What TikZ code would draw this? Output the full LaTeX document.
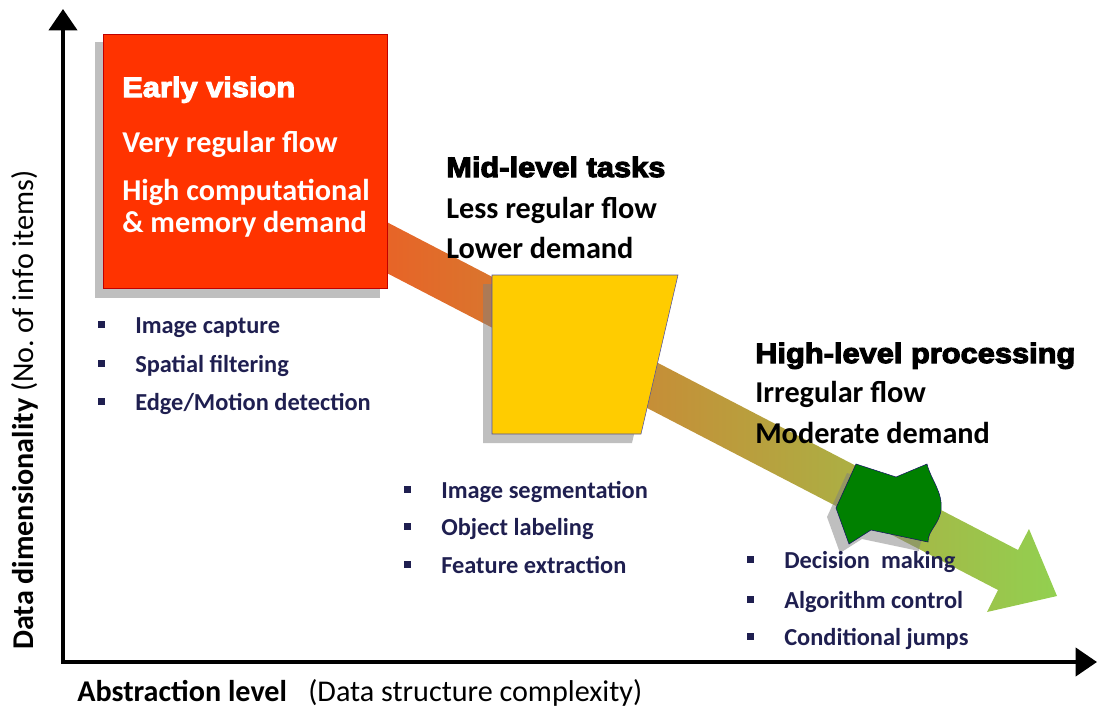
\documentclass[tikz,border=0pt]{standalone}
\usepackage{fontspec}
\setmainfont{Carlito}
\newfontfamily\blackfont[BoldFont={Liberation Sans Bold},BoldFeatures={FakeBold=4,FakeStretch=1.1}]{Liberation Sans}
\usetikzlibrary{positioning,arrows.meta}

\definecolor{earlyred}{RGB}{255,51,0}
\definecolor{earlyline}{RGB}{192,0,0}
\definecolor{midyellow}{RGB}{255,204,0}
\definecolor{midline}{RGB}{80,80,160}
\definecolor{highgreen}{RGB}{0,128,0}
\definecolor{highline}{RGB}{20,20,100}
\definecolor{itemblue}{RGB}{31,31,80}
\definecolor{flowA}{RGB}{242,86,34}
\definecolor{flowB}{RGB}{200,160,70}
\definecolor{flowC}{RGB}{146,208,80}

\newcommand{\sqmark}{\raisebox{3.75pt}{\rule{5.25pt}{5.25pt}}\hspace{22.5pt}}

\begin{document}
\begin{tikzpicture}[x=0.75pt,y=-0.75pt,
  head/.style={anchor=base west, inner sep=0pt, font=\blackfont\bfseries\fontsize{21}{24}\selectfont},
  line/.style={anchor=base west, inner sep=0pt, font=\fontsize{22.7}{26}\selectfont\bfseries},
  item/.style={anchor=base west, inner sep=0pt, text=itemblue, font=\fontsize{18.3}{21}\selectfont\bfseries},
  shade/.style={fill=gray, fill opacity=0.5, draw=none},
  axis/.style={line width=3pt, line join=miter, {Triangle[width=21pt,length=16pt]}-{Triangle[width=21pt,length=16pt]}}]
\useasboundingbox (0,0) rectangle (1097,707);

\coordinate (ytop) at (63,9);
\coordinate (xend) at (1097,662);
\draw[axis] (ytop) |- (xend);

\path[left color=flowA, middle color=flowB, right color=flowC]
  (300,177) -- (1018,550) -- (1029,529) -- (1057,596) -- (987,612) -- (998,590) -- (300,228) -- cycle;

\fill[shade] (95,42) rectangle (380,298);
\fill[shade, shift={(-9,9)}] (492,275) -- (678,275) -- (641,434) -- (492,434) -- cycle;
\fill[shade, shift={(-9,9)}] (856,464) -- (896,477) -- (927,464)
  .. controls (931,480) and (943,492) .. (941,510)
  .. controls (939,525) and (928,530) .. (928,542) -- (871,530) -- (849,544) -- (836,508) -- cycle;

\draw[fill=earlyred, draw=earlyline] (103,34) rectangle (387,288);
\draw[fill=midyellow, draw=midline] (492,275) -- (678,275) -- (641,434) -- (492,434) -- cycle;
\draw[fill=highgreen, draw=highline] (856,464) -- (896,477) -- (927,464)
  .. controls (931,480) and (943,492) .. (941,510)
  .. controls (939,525) and (928,530) .. (928,542) -- (871,530) -- (849,544) -- (836,508) -- cycle;

\node[head, text=white] (early) at (122,97) {Early vision};
\node[line, text=white] (early1) at (122,152) {Very regular flow};
\node[line, text=white] (early2) at (122,200) {High computational};
\node[line, text=white] (early3) at (122,232) {\& memory demand};

\node[head] (mid) at (446,177) {Mid-level tasks};
\node[line] (mid1) at (446,218) {Less regular flow};
\node[line] (mid2) at (446,258) {Lower demand};

\node[head] (high) at (755,363) {High-level processing};
\node[line] (high1) at (755,402) {Irregular flow};
\node[line] (high2) at (755,443) {Moderate demand};

\node[item] (capture) at (98,333) {\sqmark Image capture};
\node[item] (filter) at (98,372) {\sqmark Spatial filtering};
\node[item] (edge) at (98,410) {\sqmark Edge/Motion detection};

\node[item] (segment) at (404,498) {\sqmark Image segmentation};
\node[item] (label) at (404,535) {\sqmark Object labeling};
\node[item] (feature) at (404,573) {\sqmark Feature extraction};

\node[item] (decide) at (747,568) {\sqmark Decision\ \ making};
\node[item] (control) at (747,608) {\sqmark Algorithm control};
\node[item] (jumps) at (747,645) {\sqmark Conditional jumps};

\node[rotate=90, anchor=base west, inner sep=0pt, font=\fontsize{22.6}{24}\selectfont] (ylab) at (33,650)
  {\textbf{Data dimensionality} (No.\ of info items)};
\node[anchor=base west, inner sep=0pt, font=\fontsize{22.6}{24}\selectfont] (xlab) at (77,701)
  {\textbf{Abstraction level}\hspace{16pt}(Data structure complexity)};
\end{tikzpicture}
\end{document}
